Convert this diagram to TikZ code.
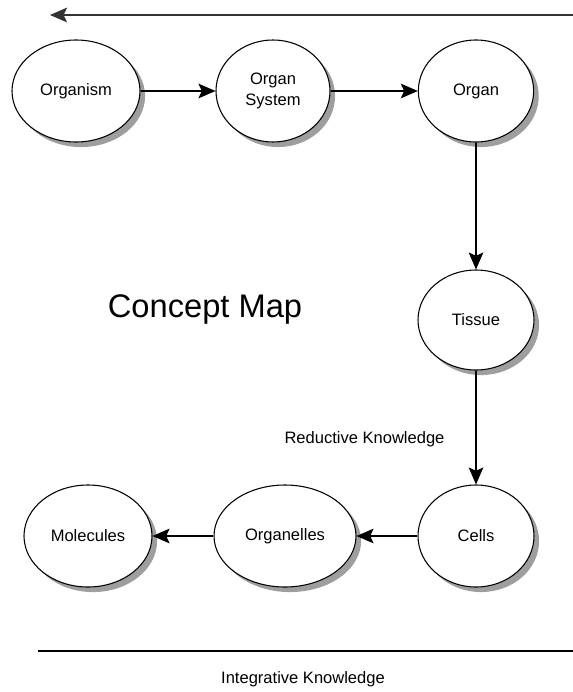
\documentclass[tikz,border=0pt]{standalone}
\usepackage{fontspec}
\setmainfont{Liberation Sans}
\usepackage{xcolor}
\definecolor{cshade}{HTML}{9E9E9E}
\definecolor{cline}{HTML}{333333}
\usetikzlibrary{positioning,arrows.meta,shapes.geometric,shadows}

\begin{document}
\begin{tikzpicture}[x=0.75pt, y=-0.75pt, >={Stealth[length=12.75pt,width=11pt,inset=2.5pt]},
  font=\fontsize{12.4}{15.5}\selectfont,
  concept/.style={ellipse, draw=black, line width=0.8pt, fill=white, inner sep=0pt, align=center,
    drop shadow={shadow xshift=3.8pt, shadow yshift=-3.8pt, fill=cshade, opacity=1}},
  link/.style={->, draw=black, line width=0.8pt},
  caption/.style={anchor=base, inner sep=0pt}]
  \useasboundingbox (0,0) rectangle (573,692);
  % top row
  \node[concept, minimum width=96pt, minimum height=76.5pt] (organism) at (76,91) {Organism};
  \node[concept, minimum width=85.5pt, minimum height=76.5pt] (orgsys) at (273,91) {Organ\\System};
  \node[concept, minimum width=86.5pt, minimum height=76.5pt] (organ) at (476,91) {Organ};
  % right column
  \node[concept, minimum width=87pt, minimum height=75pt] (tissue) at (476,320) {Tissue};
  \node[concept, minimum width=87pt, minimum height=76.5pt] (cells) at (476,536) {Cells};
  % bottom row
  \node[concept, minimum width=106.5pt, minimum height=76.5pt] (organelles) at (285,536) {Organelles};
  \node[concept, minimum width=96pt, minimum height=76.5pt] (molecules) at (88,536) {Molecules};
  \draw[link] (organism) -- (orgsys);
  \draw[link] (orgsys) -- (organ);
  \draw[link] (organ) -- (tissue);
  \draw[link] (tissue) -- (cells);
  \draw[link] (cells) -- (organelles);
  \draw[link] (organelles) -- (molecules);
  % texts and guide lines
  \node[caption, font=\fontsize{24.5}{29}\selectfont] (title) at (205,317) {Concept Map};
  \node[caption] (reductive) at (364.5,443) {Reductive Knowledge};
  \node[caption] (integrative) at (303,683) {Integrative Knowledge};
  \coordinate (topR) at (573,15);
  \coordinate (topL) at (50,15);
  \coordinate (botL) at (38,651);
  \coordinate (botR) at (573,651);
  \draw[->, cline, line width=1pt] (topR) -- (topL);
  \draw[black, line width=1pt] (botL) -- (botR);
\end{tikzpicture}
\end{document}
